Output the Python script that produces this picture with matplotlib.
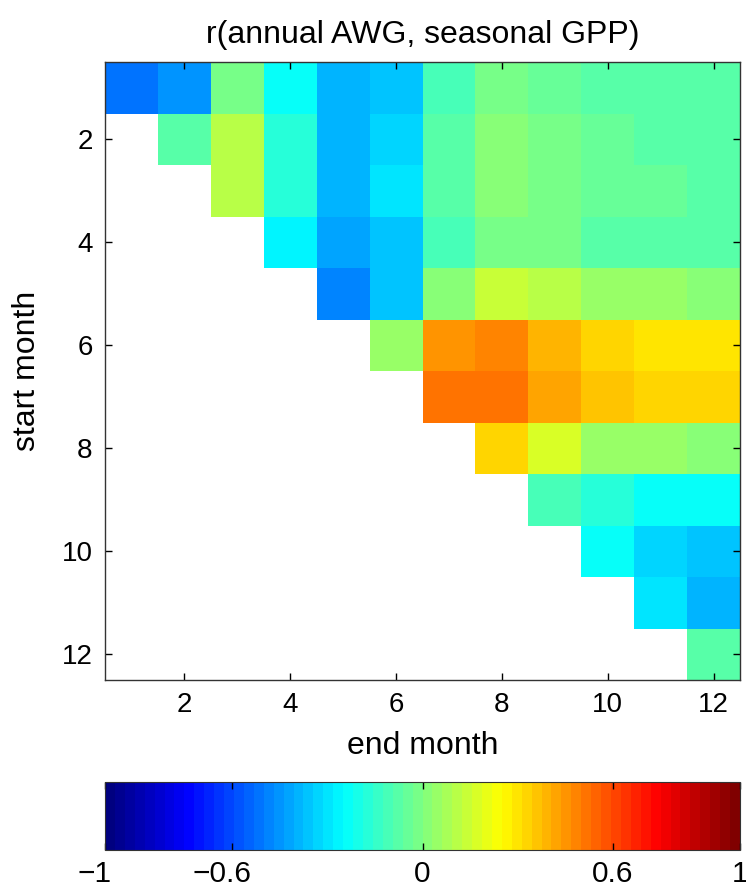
import numpy as np
import matplotlib
matplotlib.use("Agg")
import matplotlib.pyplot as plt
import matplotlib.transforms as mtransforms
from matplotlib.colors import LinearSegmentedColormap

plt.rcParams['font.family'] = ['Liberation Sans', 'DejaVu Sans']

nan = np.nan
months = list(range(1, 13))
# rows = start month, columns = end month
r_vals = [
    [-0.53, -0.44, -0.02, -0.22, -0.40, -0.35, -0.125, -0.015, -0.045, -0.075, -0.09, -0.09],
    [nan, -0.075, 0.11, -0.17, -0.38, -0.33, -0.09, 0.00, -0.02, -0.05, -0.07, -0.07],
    [nan, nan, 0.11, -0.17, -0.38, -0.31, -0.09, 0.01, -0.01, -0.04, -0.06, -0.07],
    [nan, nan, nan, -0.27, -0.42, -0.36, -0.11, -0.005, -0.03, -0.07, -0.08, -0.08],
    [nan, nan, nan, nan, -0.475, -0.36, 0.01, 0.14, 0.10, 0.05, 0.035, 0.025],
    [nan, nan, nan, nan, nan, 0.06, 0.445, 0.48, 0.385, 0.33, 0.31, 0.31],
    [nan, nan, nan, nan, nan, nan, 0.525, 0.525, 0.425, 0.35, 0.32, 0.32],
    [nan, nan, nan, nan, nan, nan, nan, 0.34, 0.18, 0.06, 0.035, 0.025],
    [nan, nan, nan, nan, nan, nan, nan, nan, -0.11, -0.18, -0.25, -0.25],
    [nan, nan, nan, nan, nan, nan, nan, nan, nan, -0.25, -0.34, -0.36],
    [nan, nan, nan, nan, nan, nan, nan, nan, nan, nan, -0.29, -0.40],
    [nan, nan, nan, nan, nan, nan, nan, nan, nan, nan, nan, -0.075],
]
cbar_ticks = [-1, -0.6, 0, 0.6, 1]
cbar_labels = ['\u22121', '\u22120.6', '0', '0.6', '1']

# MATLAB-style jet with 64 levels
jet_m = LinearSegmentedColormap.from_list(
    'jet_m',
    [(0.0, (0, 0, 0.5)), (0.125, (0, 0, 1)), (0.375, (0, 1, 1)),
     (0.625, (1, 1, 0)), (0.875, (1, 0, 0)), (1.0, (0.5, 0, 0))], N=64)

data = np.ma.masked_invalid(np.array(r_vals))
edges = np.arange(0.5, 13.5, 1)

fig = plt.figure(figsize=(7.46, 8.94), dpi=100)
ax = fig.add_axes([105 / 746, 1 - 680 / 894, 635 / 746, 618 / 894])
mesh = ax.pcolormesh(edges, edges, data, cmap=jet_m, vmin=-1, vmax=1)
ax.set_xlim(0.5, 12.5)
ax.set_ylim(12.5, 0.5)
ax.set_xticks(range(2, 13, 2))
ax.set_yticks(range(2, 13, 2))
ax.tick_params(direction='in', top=True, right=True, length=5, width=1,
               labelsize=20, pad=9)
for s in ax.spines.values():
    s.set_color('#333333')
    s.set_linewidth(1)
ax.set_title('r(annual AWG, seasonal GPP)', fontsize=23, pad=14)
ax.set_xlabel('end month', fontsize=23, labelpad=9)
ax.set_ylabel('start month', fontsize=23, labelpad=14)

cax = fig.add_axes([105 / 746, 1 - 850 / 894, 635 / 746, 68 / 894])
cb = fig.colorbar(mesh, cax=cax, orientation='horizontal', ticks=cbar_ticks)
cb.ax.tick_params(direction='in', top=True, length=5, width=1,
                  labelsize=21.5, pad=7)
cb.ax.set_xticklabels(cbar_labels)
cb.outline.set_color('#333333')

# negative labels sit a bit left of their ticks, as in the original
fig.canvas.draw()
shift = mtransforms.ScaledTranslation(-0.10, 0, fig.dpi_scale_trans)
for tick, val in zip(cb.ax.xaxis.get_major_ticks(), cbar_ticks):
    if val < 0:
        tick.label1.set_transform(tick.label1.get_transform() + shift)

fig.savefig('out.png', dpi=100)
